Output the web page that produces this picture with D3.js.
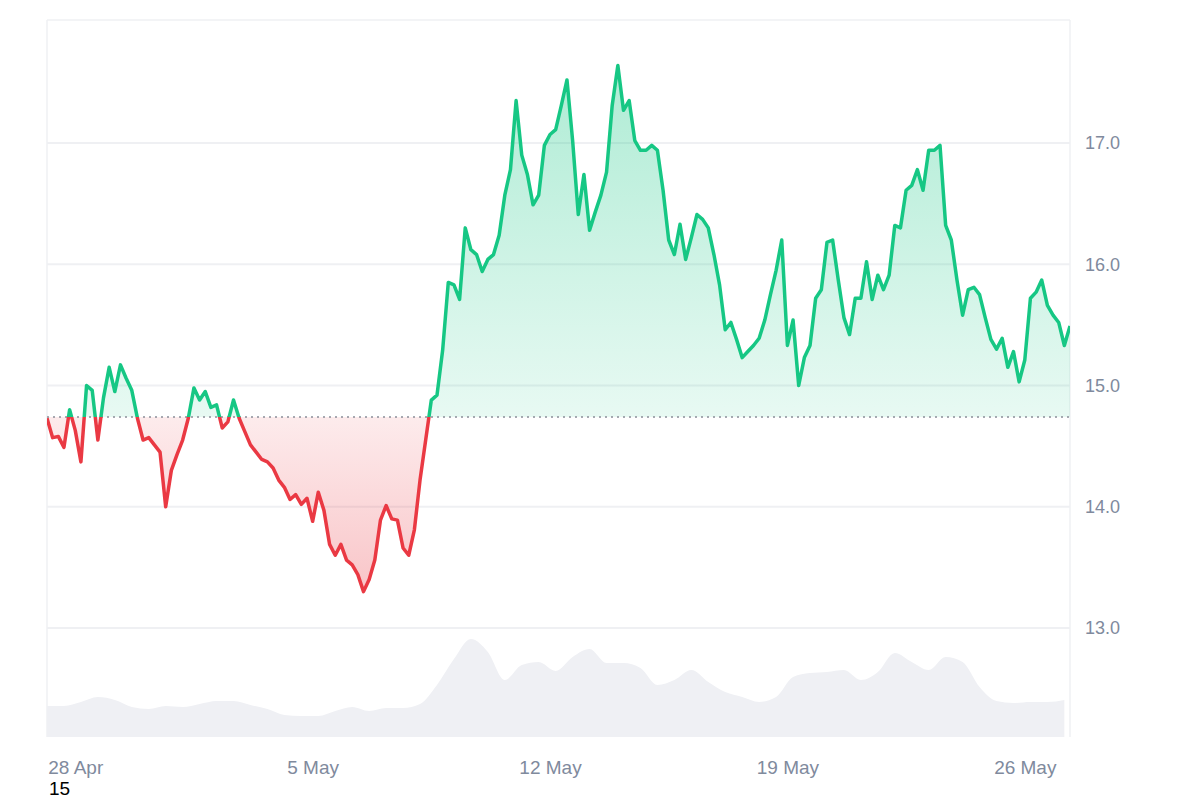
<!DOCTYPE html>
<html><head><meta charset="utf-8">
<script src="https://cdn.jsdelivr.net/npm/d3@7"></script>
<style>body{margin:0;background:#fff;font-family:"Liberation Sans",Arial,sans-serif}</style>
</head><body><svg id="c" width="1200" height="800"></svg>
<script>
const startTime = new Date(2024,3,27,4,0);
const priceStepHours = 4;
const prices = [14.73,14.57,14.58,14.49,14.80,14.63,14.37,15.0,14.96,14.55,14.90,15.15,14.95,15.17,15.06,14.96,14.73,14.55,14.57,14.51,
14.45,14.0,14.30,14.43,14.55,14.73,14.98,14.88,14.95,14.82,14.84,14.65,14.70,14.88,14.73,14.62,14.51,14.45,14.39,14.37,
14.32,14.22,14.16,14.06,14.10,14.02,14.07,13.88,14.12,13.97,13.69,13.60,13.69,13.56,13.52,13.44,13.30,13.40,13.56,13.89,
14.01,13.90,13.89,13.66,13.60,13.81,14.22,14.55,14.88,14.92,15.29,15.85,15.83,15.71,16.30,16.12,16.08,15.94,16.04,16.08,
16.24,16.57,16.78,17.35,16.90,16.74,16.49,16.57,16.98,17.07,17.11,17.31,17.52,17.02,16.41,16.74,16.28,16.43,16.57,16.76,
17.31,17.64,17.27,17.35,17.02,16.94,16.94,16.98,16.94,16.61,16.20,16.08,16.33,16.04,16.22,16.41,16.37,16.30,16.08,15.83,
15.46,15.52,15.38,15.23,15.28,15.33,15.39,15.54,15.75,15.95,16.20,15.33,15.54,15.0,15.23,15.33,15.72,15.79,16.18,16.20,
15.87,15.56,15.42,15.72,15.72,16.02,15.71,15.91,15.79,15.91,16.32,16.30,16.61,16.65,16.78,16.61,16.94,16.94,16.98,16.32,
16.20,15.87,15.58,15.79,15.81,15.75,15.56,15.38,15.30,15.39,15.15,15.28,15.03,15.21,15.72,15.77,15.87,15.66,15.58,15.52,
15.33,15.49];
const volumeStepHours = 12;
const volumes = [31,31,35,40,37,30,28,31,30,33,36,36,32,28,22,21,21,26,30,26,29,29,33,52,78,98,85,57,72,75,
66,80,88,74,74,69,52,57,67,55,45,40,35,40,60,64,65,67,57,65,84,75,67,80,75,50,36,34,35,35,37];
const baseline = 14.74;
const yTicks = [13,14,15,16,17];
const xTickDates = [new Date(2024,3,28),new Date(2024,4,5),new Date(2024,4,12),new Date(2024,4,19),new Date(2024,4,26)];
const xTickLabels = ["28 Apr","5 May","12 May","19 May","26 May"];

const H = 3600e3;
const pData = prices.map((v,i)=>({t:new Date(+startTime+i*priceStepHours*H),v}));
const vData = volumes.map((v,i)=>({t:new Date(+startTime+i*volumeStepHours*H),v}));
const L=47,R=1070,T=20,B=737;
const x = d3.scaleTime().domain([startTime,pData[pData.length-1].t]).range([L,R]);
const y = d3.scaleLinear().domain([13,17]).range([628,143]);
const yv = d3.scaleLinear().domain([0,100]).range([B,B-100]);
const svg = d3.select("#c");
const defs = svg.append("defs");
const g1 = defs.append("linearGradient").attr("id","gg").attr("x1",0).attr("x2",0)
  .attr("gradientUnits","userSpaceOnUse").attr("y1",y(17.7)).attr("y2",y(baseline));
g1.append("stop").attr("offset",0).attr("stop-color","#16c784").attr("stop-opacity",0.35);
g1.append("stop").attr("offset",1).attr("stop-color","#16c784").attr("stop-opacity",0.1);
const g2 = defs.append("linearGradient").attr("id","rg").attr("x1",0).attr("x2",0)
  .attr("gradientUnits","userSpaceOnUse").attr("y1",y(baseline)).attr("y2",y(13.25));
g2.append("stop").attr("offset",0).attr("stop-color","#ea3943").attr("stop-opacity",0.1);
g2.append("stop").attr("offset",1).attr("stop-color","#ea3943").attr("stop-opacity",0.3);
defs.append("clipPath").attr("id","above").append("rect").attr("x",L).attr("y",0).attr("width",R-L).attr("height",y(baseline));
defs.append("clipPath").attr("id","below").append("rect").attr("x",L).attr("y",y(baseline)).attr("width",R-L).attr("height",800);

svg.append("g").selectAll("line").data(yTicks).join("line")
  .attr("x1",L).attr("x2",R).attr("y1",d=>y(d)).attr("y2",d=>y(d)).attr("stroke","#eff0f3").attr("stroke-width",2);
svg.append("line").attr("x1",L).attr("x2",R).attr("y1",T).attr("y2",T).attr("stroke","#eff0f3").attr("stroke-width",1.5);
svg.append("line").attr("x1",L).attr("x2",L).attr("y1",T).attr("y2",B).attr("stroke","#eff0f3").attr("stroke-width",1.5);
svg.append("line").attr("x1",R).attr("x2",R).attr("y1",T).attr("y2",B).attr("stroke","#eff0f3").attr("stroke-width",1.5);

svg.append("path").datum(vData).attr("fill","#eff0f4")
  .attr("d",d3.area().x(d=>x(d.t)).y0(B).y1(d=>yv(d.v)).curve(d3.curveMonotoneX));

const area = d3.area().x(d=>x(d.t)).y0(y(baseline)).y1(d=>y(d.v));
svg.append("path").datum(pData).attr("fill","url(#gg)").attr("clip-path","url(#above)").attr("d",area);
svg.append("path").datum(pData).attr("fill","url(#rg)").attr("clip-path","url(#below)").attr("d",area);
svg.append("line").attr("x1",L).attr("x2",R).attr("y1",y(baseline)).attr("y2",y(baseline))
  .attr("stroke","#8a8f99").attr("stroke-width",1.5).attr("stroke-dasharray","2,4");
const line = d3.line().x(d=>x(d.t)).y(d=>y(d.v));
svg.append("path").datum(pData).attr("fill","none").attr("stroke","#16c784").attr("stroke-width",3.5)
  .attr("stroke-linejoin","round").attr("clip-path","url(#above)").attr("d",line);
svg.append("path").datum(pData).attr("fill","none").attr("stroke","#ea3943").attr("stroke-width",3.5)
  .attr("stroke-linejoin","round").attr("clip-path","url(#below)").attr("d",line);

const ya = svg.append("g").attr("transform",`translate(${R+12},0)`)
  .call(d3.axisRight(y).tickValues(yTicks).tickFormat(d3.format(".1f")).tickSize(0));
ya.select(".domain").remove();
ya.selectAll("text").attr("fill","#808a9d").attr("font-size",18).attr("font-family","Liberation Sans, Arial");
const xa = svg.append("g").attr("transform",`translate(0,${B+20})`)
  .call(d3.axisBottom(x).tickValues(xTickDates).tickFormat((d,i)=>xTickLabels[i]).tickSize(0));
xa.select(".domain").remove();
xa.selectAll("text").attr("fill","#808a9d").attr("font-size",19).attr("font-family","Liberation Sans, Arial");
svg.append("text").attr("x",49).attr("y",795).attr("font-size",19).attr("fill","#000").text("15");
</script></body></html>
